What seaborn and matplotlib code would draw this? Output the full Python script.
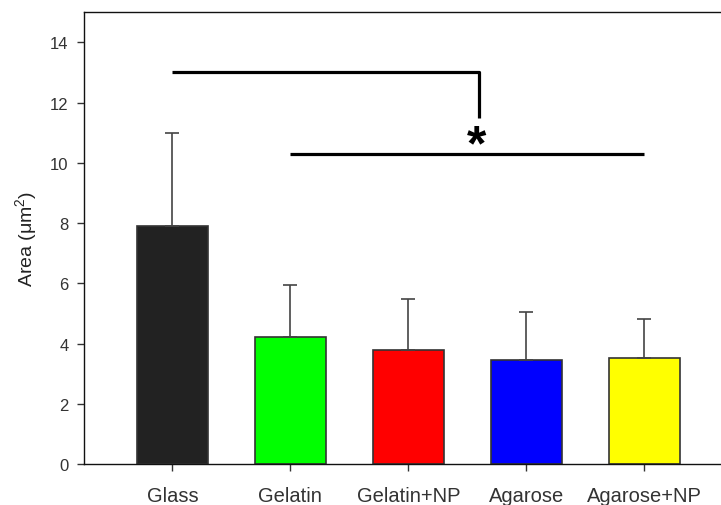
import matplotlib
matplotlib.use("Agg")
import matplotlib.pyplot as plt
import seaborn as sns
import pandas as pd

categories = ["Glass", "Gelatin", "Gelatin+NP", "Agarose", "Agarose+NP"]
mean_area = [7.9, 4.2, 3.77, 3.45, 3.52]
sd_area = [3.1, 1.75, 1.72, 1.6, 1.28]
bar_colors = ["#222222", "#00ff00", "#ff0000", "#0000ff", "#ffff00"]
y_ticks = [0, 2, 4, 6, 8, 10, 12, 14]

sns.set_theme(style="white")
plt.rcParams["font.family"] = ["Liberation Sans", "DejaVu Sans"]
plt.rcParams["mathtext.fontset"] = "custom"
plt.rcParams["mathtext.rm"] = "Liberation Sans"
plt.rcParams["mathtext.it"] = "Liberation Sans"

df = pd.DataFrame({"group": categories, "area": mean_area, "sd": sd_area})

fig = plt.figure(figsize=(7.21, 5.06), dpi=100)
ax = fig.add_axes([0.1165, 0.081, 0.8835, 0.893])

sns.barplot(data=df, x="group", y="area", hue="group", palette=bar_colors,
            order=categories, hue_order=categories, legend=False, saturation=1,
            width=0.6, edgecolor="#333333", linewidth=1.2, ax=ax, errorbar=None)

# upper-only error bars
ax.errorbar(range(len(categories)), mean_area,
            yerr=[[0] * len(sd_area), sd_area], fmt="none",
            ecolor="#444444", elinewidth=1.2, capsize=4.7, capthick=1.2, zorder=3)

# significance annotation
ax.plot([0, 2.6, 2.6], [13.0, 13.0, 11.5], color="black", lw=2.3,
        solid_joinstyle="round", solid_capstyle="butt")
ax.plot([1, 4], [10.3, 10.3], color="black", lw=2.3, solid_capstyle="butt")
ax.text(2.58, 10.12, "*", ha="center", va="baseline", fontsize=36,
        fontweight="bold", color="black")

ax.set_xlim(-0.75, 4.65)
ax.set_ylim(0, 15)
ax.set_yticks(y_ticks)
ax.set_xlabel("")
ax.set_ylabel(r"Area ($\mathregular{\mu m^2}$)", fontsize=14, color="#222222", labelpad=8)

for side in ["left", "bottom", "top"]:
    ax.spines[side].set_color("#111111")
    ax.spines[side].set_linewidth(1.0)
ax.spines["right"].set_visible(False)

ax.tick_params(axis="both", which="major", direction="out", length=5, width=1,
               color="#333333", labelcolor="#333333", left=True, bottom=True)
ax.tick_params(axis="x", labelsize=14.5, pad=11)
ax.tick_params(axis="y", labelsize=12, pad=6)

fig.savefig("out.png", dpi=100)
